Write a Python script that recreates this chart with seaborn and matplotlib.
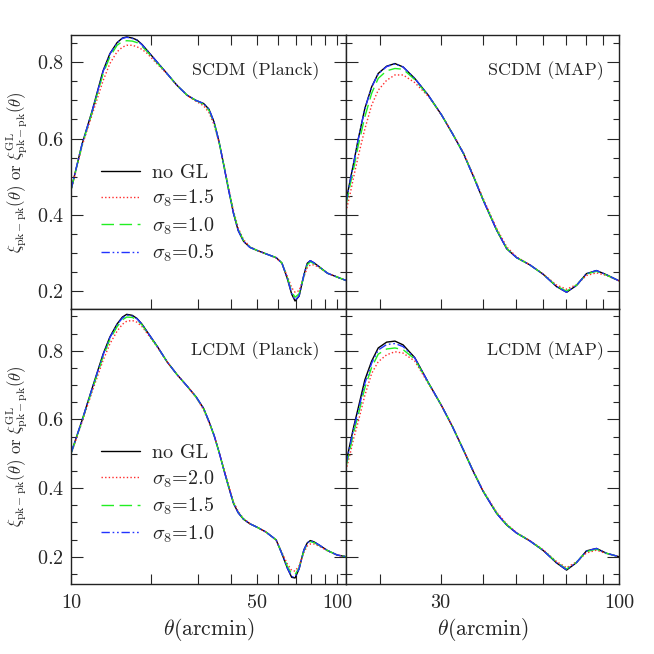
import matplotlib
matplotlib.use("Agg")
import matplotlib.pyplot as plt
from matplotlib.ticker import MultipleLocator, NullLocator
import pandas as pd
import seaborn as sns

# theta grids (arcmin)
left_theta = [10, 11, 12, 13.2, 14, 14.9, 15.6, 16.2, 17, 17.7, 18.5, 19.3, 21, 23, 25,
              27.3, 29.5, 31.5, 33, 34.5, 36, 37.5, 39, 40.8, 42.5, 44.5, 47, 50, 54, 59,
              62, 65, 67.5, 69.5, 72, 75, 77.2, 79.3, 82, 86, 92, 100, 108]
right_theta = [15.85, 16.3, 16.7, 17.2, 18.0, 18.85, 19.7, 20.85, 22.05, 23.3, 25.2, 27.6,
               30.2, 32.5, 35, 37.5, 40, 43.8, 46.9, 50.1, 54.8, 60, 65.6, 70.2, 75.1, 80.3,
               85.9, 91.9, 100]

# SCDM (Planck)
scdm_planck_nogl = [0.465, 0.585, 0.672, 0.778, 0.823, 0.852, 0.864, 0.867, 0.864, 0.859,
                    0.847, 0.832, 0.802, 0.770, 0.740, 0.714, 0.700, 0.692, 0.677, 0.643,
                    0.592, 0.530, 0.469, 0.403, 0.358, 0.330, 0.314, 0.306, 0.297, 0.287,
                    0.273, 0.232, 0.191, 0.173, 0.186, 0.241, 0.272, 0.279, 0.273, 0.262,
                    0.246, 0.236, 0.227]
scdm_planck_s15 = [0.462, 0.580, 0.662, 0.752, 0.797, 0.828, 0.840, 0.845, 0.845, 0.841,
                   0.834, 0.824, 0.797, 0.769, 0.740, 0.713, 0.698, 0.686, 0.668, 0.636,
                   0.590, 0.533, 0.474, 0.410, 0.365, 0.334, 0.316, 0.306, 0.297, 0.286,
                   0.272, 0.238, 0.208, 0.196, 0.200, 0.236, 0.260, 0.268, 0.268, 0.260,
                   0.246, 0.236, 0.227]
scdm_planck_s10 = [0.464, 0.583, 0.669, 0.770, 0.815, 0.845, 0.855, 0.857, 0.856, 0.852,
                   0.842, 0.829, 0.800, 0.770, 0.740, 0.714, 0.700, 0.690, 0.674, 0.641,
                   0.591, 0.531, 0.471, 0.406, 0.361, 0.332, 0.315, 0.306, 0.297, 0.287,
                   0.273, 0.235, 0.197, 0.183, 0.192, 0.239, 0.268, 0.276, 0.271, 0.261,
                   0.246, 0.236, 0.227]
scdm_planck_s05 = [0.465, 0.585, 0.671, 0.776, 0.822, 0.851, 0.863, 0.866, 0.863, 0.858,
                   0.846, 0.832, 0.802, 0.770, 0.740, 0.714, 0.700, 0.692, 0.677, 0.643,
                   0.592, 0.530, 0.469, 0.403, 0.358, 0.330, 0.314, 0.306, 0.297, 0.287,
                   0.273, 0.233, 0.193, 0.175, 0.187, 0.241, 0.272, 0.279, 0.273, 0.262,
                   0.246, 0.236, 0.227]

# SCDM (MAP)
scdm_map_nogl = [0.434, 0.490, 0.537, 0.597, 0.679, 0.736, 0.771, 0.790, 0.797, 0.788,
                 0.758, 0.714, 0.662, 0.613, 0.561, 0.499, 0.438, 0.359, 0.310, 0.287,
                 0.268, 0.243, 0.211, 0.196, 0.214, 0.245, 0.253, 0.242, 0.226]
scdm_map_s15 = [0.408, 0.455, 0.500, 0.552, 0.625, 0.688, 0.727, 0.753, 0.767, 0.767,
                0.747, 0.711, 0.662, 0.614, 0.563, 0.502, 0.442, 0.364, 0.315, 0.289,
                0.268, 0.244, 0.215, 0.204, 0.216, 0.240, 0.247, 0.240, 0.226]
scdm_map_s10 = [0.425, 0.478, 0.522, 0.580, 0.657, 0.719, 0.758, 0.778, 0.784, 0.782,
                0.755, 0.713, 0.662, 0.613, 0.561, 0.500, 0.439, 0.360, 0.311, 0.287,
                0.268, 0.243, 0.212, 0.199, 0.215, 0.244, 0.251, 0.241, 0.226]
scdm_map_s05 = [0.432, 0.489, 0.536, 0.596, 0.678, 0.735, 0.770, 0.789, 0.796, 0.788,
                0.758, 0.714, 0.662, 0.613, 0.561, 0.499, 0.438, 0.359, 0.310, 0.287,
                0.268, 0.243, 0.211, 0.196, 0.214, 0.245, 0.253, 0.242, 0.226]

# LCDM (Planck)
lcdm_planck_nogl = [0.501, 0.597, 0.690, 0.790, 0.840, 0.878, 0.898, 0.906, 0.903, 0.894,
                    0.877, 0.856, 0.815, 0.767, 0.731, 0.697, 0.666, 0.632, 0.594, 0.553,
                    0.505, 0.454, 0.407, 0.355, 0.328, 0.309, 0.296, 0.286, 0.272, 0.249,
                    0.209, 0.167, 0.140, 0.138, 0.165, 0.220, 0.240, 0.247, 0.243, 0.233,
                    0.218, 0.205, 0.200]
lcdm_planck_s20 = [0.498, 0.592, 0.680, 0.772, 0.820, 0.857, 0.877, 0.886, 0.888, 0.883,
                   0.870, 0.851, 0.813, 0.767, 0.731, 0.697, 0.664, 0.628, 0.591, 0.553,
                   0.506, 0.458, 0.411, 0.360, 0.332, 0.311, 0.297, 0.286, 0.272, 0.248,
                   0.213, 0.179, 0.160, 0.158, 0.174, 0.212, 0.231, 0.237, 0.237, 0.230,
                   0.217, 0.205, 0.200]
lcdm_planck_s15 = [0.500, 0.595, 0.686, 0.783, 0.833, 0.870, 0.890, 0.898, 0.897, 0.890,
                   0.875, 0.854, 0.814, 0.767, 0.731, 0.697, 0.665, 0.631, 0.593, 0.553,
                   0.505, 0.455, 0.408, 0.357, 0.329, 0.310, 0.296, 0.286, 0.272, 0.249,
                   0.210, 0.172, 0.150, 0.148, 0.168, 0.217, 0.237, 0.244, 0.241, 0.232,
                   0.218, 0.205, 0.200]
lcdm_planck_s10 = [0.501, 0.597, 0.689, 0.788, 0.838, 0.876, 0.895, 0.904, 0.901, 0.893,
                   0.877, 0.856, 0.815, 0.767, 0.731, 0.697, 0.666, 0.632, 0.594, 0.553,
                   0.505, 0.454, 0.407, 0.355, 0.328, 0.309, 0.296, 0.286, 0.272, 0.249,
                   0.209, 0.167, 0.142, 0.141, 0.165, 0.219, 0.240, 0.246, 0.243, 0.233,
                   0.218, 0.205, 0.200]

# LCDM (MAP)
lcdm_map_nogl = [0.472, 0.530, 0.579, 0.632, 0.715, 0.770, 0.808, 0.825, 0.828, 0.817,
                 0.780, 0.708, 0.640, 0.579, 0.511, 0.446, 0.390, 0.326, 0.292, 0.269,
                 0.246, 0.218, 0.182, 0.161, 0.183, 0.217, 0.224, 0.210, 0.200]
lcdm_map_s20 = [0.452, 0.500, 0.545, 0.592, 0.670, 0.734, 0.768, 0.788, 0.797, 0.793,
                0.770, 0.705, 0.640, 0.580, 0.512, 0.448, 0.392, 0.330, 0.295, 0.270,
                0.247, 0.220, 0.186, 0.168, 0.185, 0.211, 0.219, 0.209, 0.200]
lcdm_map_s15 = [0.462, 0.515, 0.562, 0.612, 0.692, 0.752, 0.790, 0.805, 0.808, 0.803,
                0.776, 0.707, 0.640, 0.579, 0.511, 0.447, 0.391, 0.327, 0.293, 0.269,
                0.246, 0.219, 0.184, 0.164, 0.184, 0.215, 0.222, 0.210, 0.200]
lcdm_map_s10 = [0.470, 0.526, 0.574, 0.624, 0.705, 0.764, 0.802, 0.818, 0.821, 0.812,
                0.779, 0.708, 0.640, 0.579, 0.511, 0.446, 0.390, 0.326, 0.292, 0.269,
                0.246, 0.218, 0.182, 0.162, 0.183, 0.217, 0.224, 0.210, 0.200]

scdm_labels = ["no GL", r"$\sigma_8$=1.5", r"$\sigma_8$=1.0", r"$\sigma_8$=0.5"]
lcdm_labels = ["no GL", r"$\sigma_8$=2.0", r"$\sigma_8$=1.5", r"$\sigma_8$=1.0"]

colors = ["black", "#ff2a2a", "#22ee22", "#2233ff"]
dash_styles = ["", (1, 1.6), (9, 4), (6, 2, 1.2, 2, 1.2, 2)]

sns.set_style("ticks")
plt.rcParams["font.family"] = ["cmr10", "DejaVu Serif"]
plt.rcParams["mathtext.fontset"] = "cm"
plt.rcParams["axes.formatter.use_mathtext"] = True

fig = plt.figure(figsize=(6.54, 6.54), dpi=100)

W = 654.0
panels = [
    # rect in pixels: x0, x1, y_top, y_bottom
    dict(px=(71, 346, 35, 309), theta=left_theta,
         series=[scdm_planck_nogl, scdm_planck_s15, scdm_planck_s10, scdm_planck_s05],
         labels=scdm_labels, xlim=(10, 108), ylim=(0.152, 0.872),
         title="SCDM (Planck)", left=True, bottom=False, ticks=[10, 20, 30, 40, 50, 60, 70, 80, 90, 100],
         ticklabels={10: "10", 50: "50", 100: "100"}, tpos=(0.905, 0.87)),
    dict(px=(346, 619, 35, 309), theta=right_theta,
         series=[scdm_map_nogl, scdm_map_s15, scdm_map_s10, scdm_map_s05],
         labels=scdm_labels, xlim=(15.85, 100), ylim=(0.152, 0.872),
         title="SCDM (MAP)", left=False, bottom=False, ticks=[20, 30, 40, 50, 60, 70, 80, 90, 100],
         ticklabels={30: "30", 100: "100"}, tpos=(0.945, 0.87)),
    dict(px=(71, 346, 309, 584), theta=left_theta,
         series=[lcdm_planck_nogl, lcdm_planck_s20, lcdm_planck_s15, lcdm_planck_s10],
         labels=lcdm_labels, xlim=(10, 108), ylim=(0.1205, 0.9215),
         title="LCDM (Planck)", left=True, bottom=True, ticks=[10, 20, 30, 40, 50, 60, 70, 80, 90, 100],
         ticklabels={10: "10", 50: "50", 100: "100"}, tpos=(0.905, 0.848)),
    dict(px=(346, 619, 309, 584), theta=right_theta,
         series=[lcdm_map_nogl, lcdm_map_s20, lcdm_map_s15, lcdm_map_s10],
         labels=lcdm_labels, xlim=(15.85, 100), ylim=(0.1205, 0.9215),
         title="LCDM (MAP)", left=False, bottom=True, ticks=[20, 30, 40, 50, 60, 70, 80, 90, 100],
         ticklabels={30: "30", 100: "100"}, tpos=(0.945, 0.848)),
]

for p in panels:
    x0, x1, yt, yb = p["px"]
    ax = fig.add_axes([x0 / W, 1 - yb / W, (x1 - x0) / W, (yb - yt) / W])
    ax.set_xscale("log")

    rows = []
    for lab, vals in zip(p["labels"], p["series"]):
        for t, v in zip(p["theta"], vals):
            rows.append({"theta": t, "xi": v, "curve": lab})
    df = pd.DataFrame(rows)
    sns.lineplot(data=df, x="theta", y="xi", hue="curve", style="curve",
                 hue_order=p["labels"], style_order=p["labels"],
                 palette=dict(zip(p["labels"], colors)),
                 dashes=dict(zip(p["labels"], dash_styles)),
                 sort=False, legend=False, ax=ax, lw=1.0)

    ax.set_xlim(*p["xlim"])
    ax.set_ylim(*p["ylim"])
    ax.set_xticks(p["ticks"])
    ax.set_xticklabels([p["ticklabels"].get(t, "") for t in p["ticks"]])
    ax.xaxis.set_minor_locator(NullLocator())
    ax.yaxis.set_major_locator(MultipleLocator(0.2))
    ax.yaxis.set_minor_locator(MultipleLocator(0.05))
    ax.set_xlabel("")
    ax.set_ylabel("")

    top_on = not p["bottom"]
    ax.tick_params(axis="y", which="major", direction="in", length=8.5, width=0.8,
                   left=True, right=True, labelleft=p["left"], labelsize=14.5, pad=5)
    ax.tick_params(axis="y", which="minor", direction="in", length=4.3, width=0.8,
                   left=True, right=True)
    ax.tick_params(axis="x", which="major", direction="in", length=7, width=0.8,
                   top=top_on, bottom=True, labelbottom=p["bottom"], labelsize=14.5, pad=7)
    for s in ax.spines.values():
        s.set_linewidth(1.0)
        s.set_color("#222222")

    ax.text(p["tpos"][0], p["tpos"][1], p["title"], transform=ax.transAxes,
            ha="right", va="center", fontsize=13)

    if p["left"]:
        ax.set_ylabel(r"$\xi_{\rm pk-pk}(\theta)$ or $\xi^{\rm GL}_{\rm pk-pk}(\theta)$",
                      fontsize=12)
        ax.yaxis.set_label_coords(-0.148, 0.5)
        leg_y = 0.53 if not p["bottom"] else 0.508
        ax.legend(ax.lines[:4], p["labels"], loc="upper left", bbox_to_anchor=(0.109, leg_y),
                  frameon=False, borderpad=0, borderaxespad=0, fontsize=14.5,
                  handlelength=1.95, handletextpad=0.6, labelspacing=0.3)
    if p["bottom"]:
        ax.set_xlabel(r"$\theta$(arcmin)", fontsize=15.5)
        ax.xaxis.set_label_coords(0.5, -0.115)

fig.savefig("out.png", dpi=100)
